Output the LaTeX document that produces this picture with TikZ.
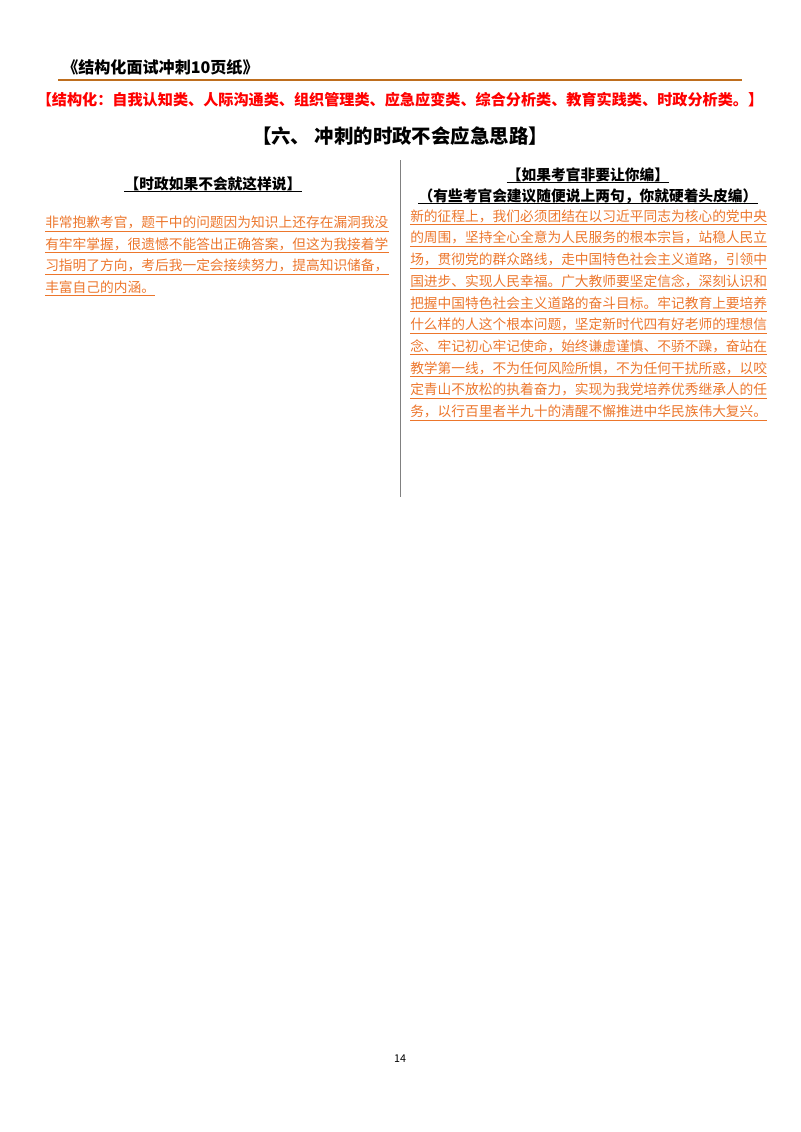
\documentclass[tikz,border=0pt]{standalone}
\usepackage{fontspec}
\setmainfont{Noto Sans CJK SC}
\begin{document}
\begin{tikzpicture}[x=0.02625cm,y=-0.02625cm,
  body/.style={anchor=base west,inner sep=0pt,font=\fontsize{10.25}{12}\selectfont},
  ul/.style={line width=0.5pt}]
\definecolor{org}{RGB}{236,118,44}
\useasboundingbox (0,0) rectangle (800,1132);
\node[anchor=base west,inner sep=0pt,font=\fontsize{12}{14}\selectfont\bfseries] (hdr) at (62,73) {《结构化面试冲刺10页纸》};
\coordinate (l1) at (58,80); \coordinate (l2) at (742,80);
\draw[color={rgb,255:red,190;green,110;blue,30},line width=2pt] (l1) -- (l2);
\node[anchor=base,inner sep=0pt,text=red,font=\fontsize{11.3}{13}\selectfont\bfseries] (cat) at (400,105) {【结构化：自我认知类、人际沟通类、组织管理类、应急应变类、综合分析类、教育实践类、时政分析类。】};
\node[anchor=base,inner sep=0pt,font=\fontsize{14.5}{16}\selectfont\bfseries] (ttl) at (400,143) {【六、 冲刺的时政不会应急思路】};
\coordinate (v1) at (400,160); \coordinate (v2) at (400,497);
\draw[gray,line width=0.6pt] (v1) -- (v2);
\node[anchor=base,inner sep=0pt,font=\fontsize{11}{13}\selectfont\bfseries] (lh) at (213,189) {【时政如果不会就这样说】};
\draw[line width=0.8pt] ([yshift=-2pt]lh.base west) -- ([yshift=-2pt]lh.base east);
\node[anchor=base,inner sep=0pt,font=\fontsize{11}{13}\selectfont\bfseries] (rh) at (588,180) {【如果考官非要让你编】};
\draw[line width=0.8pt] ([yshift=-2pt]rh.base west) -- ([yshift=-2pt]rh.base east);
\node[anchor=base,inner sep=0pt,font=\fontsize{11}{13}\selectfont\bfseries] (rs) at (588,201) {（有些考官会建议随便说上两句，你就硬着头皮编）};
\draw[line width=0.8pt] ([yshift=-2pt]rs.base west) -- ([yshift=-2pt]rs.base east);
\foreach \t [count=\i] in {非常抱歉考官，题干中的问题因为知识上还存在漏洞我没,有牢牢掌握，很遗憾不能答出正确答案，但这为我接着学,习指明了方向，考后我一定会接续努力，提高知识储备，,丰富自己的内涵。}{
  \node[body,text=org] (a\i) at (45,{206+21.6*\i}) {\t};
  \draw[ul,org] ([yshift=-2.5pt]a\i.base west) -- ([yshift=-2.5pt]a\i.base east);
}
\foreach \t [count=\i] in {新的征程上，我们必须团结在以习近平同志为核心的党中央,的周围，坚持全心全意为人民服务的根本宗旨，站稳人民立,场，贯彻党的群众路线，走中国特色社会主义道路，引领中,国进步、实现人民幸福。广大教师要坚定信念，深刻认识和,把握中国特色社会主义道路的奋斗目标。牢记教育上要培养,什么样的人这个根本问题，坚定新时代四有好老师的理想信,念、牢记初心牢记使命，始终谦虚谨慎、不骄不躁，奋站在,教学第一线，不为任何风险所惧，不为任何干扰所惑，以咬,定青山不放松的执着奋力，实现为我党培养优秀继承人的任,务，以行百里者半九十的清醒不懈推进中华民族伟大复兴。}{
  \node[body,text=org] (b\i) at (410,{199.5+21.7*\i}) {\t};
  \draw[ul,org] ([yshift=-2.5pt]b\i.base west) -- ([yshift=-2.5pt]b\i.base east);
}
\node[anchor=base,inner sep=0pt,font=\fontsize{8}{9}\selectfont] (pg) at (400,1062) {14};
\end{tikzpicture}
\end{document}
